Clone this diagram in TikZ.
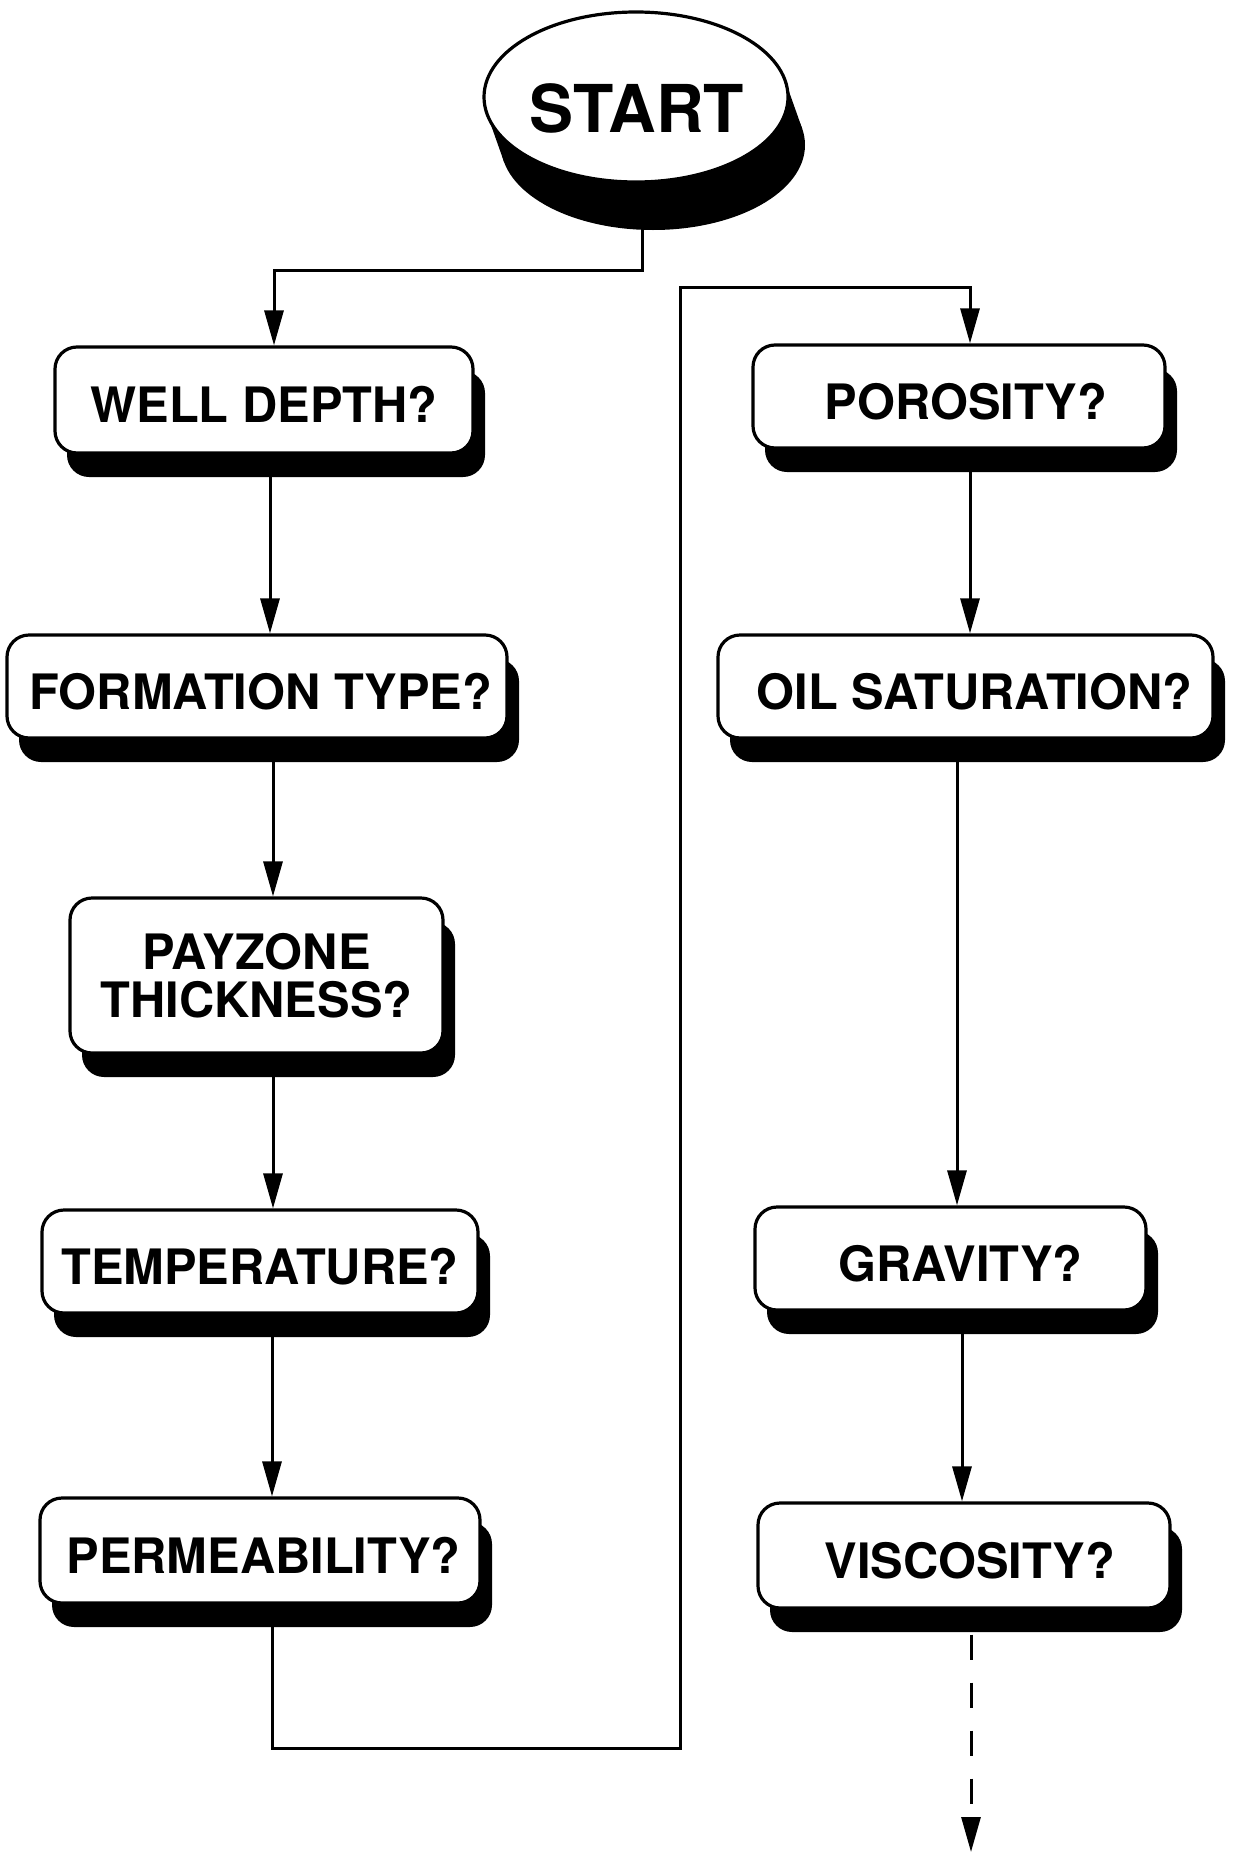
\documentclass[tikz,border=0pt]{standalone}
\usepackage{fontspec}
\setmainfont{TeX Gyre Heros}
\usetikzlibrary{arrows.meta,shapes.geometric,shadows}

\begin{document}
\begin{tikzpicture}[x=1pt,y=-1pt,
  qbox/.style={draw, line width=3.2pt, rounded corners=22pt, fill=white,
    inner sep=0pt, align=center,
    font=\bfseries\fontsize{48.8}{48.5}\selectfont,
    drop shadow={shadow xshift=12pt, shadow yshift=-24pt, fill=black, opacity=1}},
  oneline/.style={text height=45pt, text depth=0pt},
  disc/.style={ellipse, minimum width=304pt, minimum height=170pt, inner sep=0pt},
  conn/.style={line width=3pt},
  tip/.style={-{Triangle[length=35pt,width=19pt]}},
  arrow/.style={conn, tip},
]
\fill[white] (0,0) rectangle (1234,1852);
\useasboundingbox (0,0) rectangle (1234,1852);

% START disc: extruded black body under a white face
\node[disc, fill=black] (startshadow) at (653,145) {};
\fill (785.1,80.5) -- (802.1,128.5) -- (503.9,161.5) -- (486.9,113.5) -- cycle;
\node[disc, draw, line width=3.2pt, fill=white] (start) at (636,97) {};
\node[font=\bfseries\fontsize{66}{66}\selectfont, inner sep=0pt] (starttext) at (637,108) {START};

% left column of questions
\node[qbox, oneline, minimum width=418pt, minimum height=106pt] (well) at (264,400) {WELL DEPTH?};
\node[qbox, oneline, minimum width=500pt, minimum height=103pt] (form) at (257,686.5) {\hspace*{8pt}FORMATION TYPE?};
\node[qbox, minimum width=373pt, minimum height=155pt] (pay) at (256.5,975.5) {PAYZONE\\THICKNESS?};
\node[qbox, oneline, minimum width=436pt, minimum height=103pt] (temp) at (260,1261.5) {TEMPERATURE?};
\node[qbox, oneline, minimum width=440pt, minimum height=105pt] (perm) at (260,1550.5) {\hspace*{7pt}PERMEABILITY?};

% right column of questions
\node[qbox, oneline, minimum width=412pt, minimum height=103pt] (poro) at (959,396.5) {\hspace*{14pt}POROSITY?};
\node[qbox, oneline, minimum width=495pt, minimum height=103pt] (oil) at (965.5,686.5) {\hspace*{18pt}OIL SATURATION?};
\node[qbox, oneline, minimum width=391pt, minimum height=103pt] (grav) at (950.5,1258.5) {\hspace*{20pt}GRAVITY?};
\node[qbox, oneline, minimum width=412pt, minimum height=105pt] (visc) at (964,1555.5) {\hspace*{12pt}VISCOSITY?};

% elbows of the long return line
\coordinate (j1) at (272,1748);
\coordinate (j2) at (680,1748);
\coordinate (j3) at (680,287);
\coordinate (tail) at (971,1852);

% connectors
\draw[arrow] ([xshift=-11pt]startshadow.south) -- ++(0,40) -| ([xshift=10pt]well.north);
\draw[arrow] ([xshift=6pt]well.south) -- ([xshift=13pt]form.north);
\draw[arrow] ([xshift=16pt]form.south) -- ([xshift=16.5pt]pay.north);
\draw[arrow] ([xshift=16.5pt]pay.south) -- ([xshift=13pt]temp.north);
\draw[arrow] ([xshift=12pt]temp.south) -- ([xshift=12pt]perm.north);
\draw[arrow] ([xshift=12pt]perm.south) -- (j1) -- (j2) -- (j3) -| ([xshift=11pt]poro.north);
\draw[arrow] ([xshift=11pt]poro.south) -- ([xshift=4.5pt]oil.north);
\draw[arrow] ([xshift=-8.5pt]oil.south) -- ([xshift=6.5pt]grav.north);
\draw[arrow] ([xshift=11.5pt]grav.south) -- ([xshift=-2pt]visc.north);
\draw[conn, tip, dash pattern=on 25pt off 23pt] ([xshift=7pt,yshift=-25pt]visc.south) -- (tail);
\end{tikzpicture}
\end{document}
